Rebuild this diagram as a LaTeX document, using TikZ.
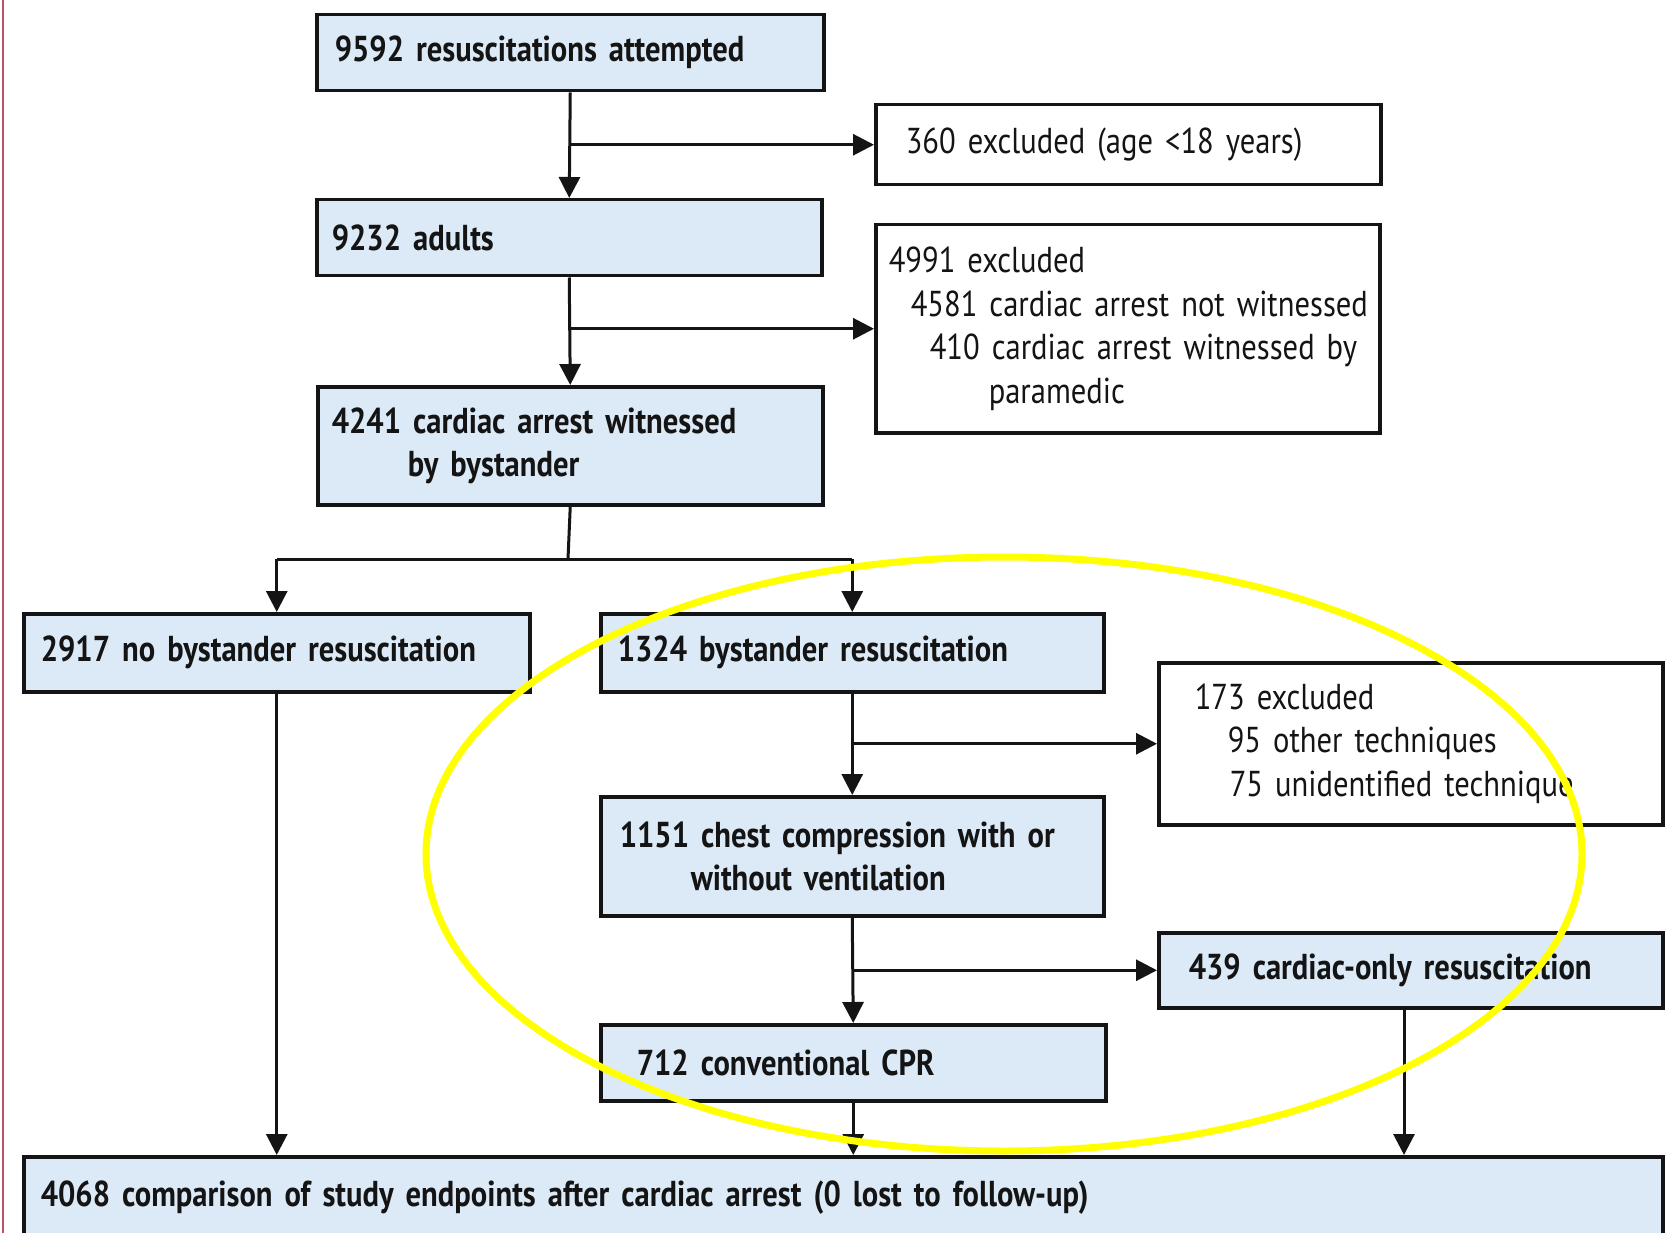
\documentclass[tikz,border=0pt]{standalone}
\usepackage{fontspec}
\setmainfont{PT Sans}[FakeStretch=0.85,WordSpace=0.7]
\usetikzlibrary{arrows.meta}
\definecolor{boxblue}{RGB}{220,234,247}
\definecolor{ink}{RGB}{20,20,20}
\definecolor{hilite}{RGB}{255,255,0}
\definecolor{edgered}{RGB}{190,80,100}
\begin{document}
\begin{tikzpicture}[x=1pt,y=-1pt,
  every node/.style={font=\fontsize{36}{43.5}\selectfont, text=ink},
  bluebox/.style={draw=ink, line width=3.5pt, fill=boxblue, inner sep=0pt, anchor=north west, align=left, font=\fontsize{36}{43.5}\selectfont\bfseries},
  whitebox/.style={draw=ink, line width=3.5pt, fill=white, inner sep=0pt, anchor=north west, align=left},
  flow/.style={draw=ink, line width=3pt, -{Triangle[length=21pt,width=21pt]}},
  plain/.style={draw=ink, line width=3pt}]
\useasboundingbox (0,0) rectangle (1667,1233);
\fill[white] (0,0) rectangle (1667,1233);
\draw[edgered, line width=2pt] (3,0) -- (3,1233);

% boxes: text width = box width - 2*inset; inner xsep = inset
\node[bluebox, text width=471pt, inner xsep=18pt, minimum height=76pt] (A) at (315,13) {\mbox{9592 resuscitations attempted}};
\node[whitebox, text width=445pt, inner xsep=30pt, minimum height=80pt] (B) at (874,103) {\mbox{360 excluded (age <18 years)}};
\node[bluebox, text width=475pt, inner xsep=15pt, minimum height=76pt] (C) at (315,198) {9232 adults};
\node[whitebox, text width=478pt, inner xsep=13pt, minimum height=208pt] (D) at (874,223) {\mbox{4991 excluded}\\\mbox{\hspace*{22pt}4581 cardiac arrest not witnessed}\\\mbox{\hspace*{41pt}410 cardiac arrest witnessed by}\\\mbox{\hspace*{100pt}paramedic}};
\node[bluebox, text width=477pt, inner xsep=14pt, minimum height=118pt] (E) at (316,385) {\mbox{4241 cardiac arrest witnessed}\\\mbox{\hspace*{76pt}by bystander}};
\node[bluebox, text width=472pt, inner xsep=17pt, minimum height=78pt] (F) at (22,612) {\mbox{2917 no bystander resuscitation}};
\node[bluebox, text width=469pt, inner xsep=17pt, minimum height=78pt] (G) at (599,612) {\mbox{1324 bystander resuscitation}};
\node[whitebox, text width=432pt, inner xsep=36pt, minimum height=162pt] (H) at (1157,661) {\mbox{173 excluded}\\\mbox{\hspace*{33pt}95 other techniques}\\\mbox{\hspace*{35pt}75 unidentified technique}};
\node[bluebox, text width=465pt, inner xsep=19pt, minimum height=119pt] (I) at (599,795) {\mbox{1151 chest compression with or}\\\mbox{\hspace*{71pt}without ventilation}};
\node[bluebox, text width=444pt, inner xsep=30pt, minimum height=75pt] (J) at (1157,931) {\mbox{439 cardiac-only resuscitation}};
\node[bluebox, text width=433pt, inner xsep=36pt, minimum height=76pt] (K) at (599,1023) {\mbox{712 conventional CPR}};
\node[bluebox, text width=1605pt, inner xsep=17pt, minimum height=81pt] (L) at (22,1155) {\mbox{4068 comparison of study endpoints after cardiac arrest (0 lost to follow-up)}};

% connectors
\draw[flow] (A.south) -- (C.north);
\draw[flow] (A.south |- B.west) -- (B.west);
\draw[flow] (C.south) -- (E.north);
\draw[flow] (C.south |- D.west) -- (D.west);
\coordinate (split) at (568,559);
\draw[plain] (E.south) -- (split);
\draw[flow] (split -| F.north) -- (F.north);
\draw[plain] (split -| F.north) -- (split -| G.north);
\draw[flow] (split -| G.north) -- (G.north);
\draw[flow] (G.south) -- (I.north);
\draw[flow] (G.south |- H.west) -- (H.west);
\draw[flow] (I.south) -- (K.north);
\draw[flow] (I.south |- J.west) -- (J.west);
\draw[flow] (K.south) -- (K.south |- L.north);
\draw[flow] (F.south) -- (F.south |- L.north);
\coordinate (jdown) at (1404,1006);
\draw[flow] (jdown) -- (jdown |- L.north);

% highlight ellipse
\draw[hilite, line width=7pt] (1004,854) ellipse [x radius=578, y radius=297];
\end{tikzpicture}
\end{document}
